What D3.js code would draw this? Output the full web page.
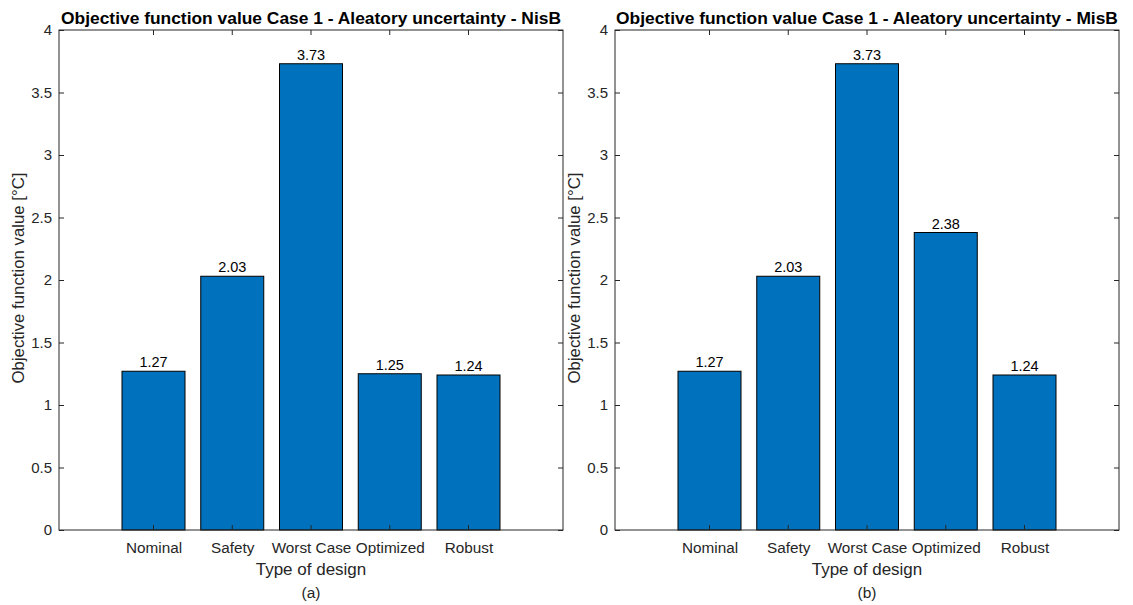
<!DOCTYPE html>
<html>
<head>
<meta charset="utf-8">
<script src="https://cdn.jsdelivr.net/npm/d3@7"></script>
<style>
  body { margin: 0; background: #fff; }
  svg { font-family: Arial, "Liberation Sans", sans-serif; }
</style>
</head>
<body>
<svg id="chart" width="1133" height="605"></svg>
<script>
// data
const designs = ['Nominal', 'Safety', 'Worst Case', 'Optimized', 'Robust'];
const valuesNisB = [1.27, 2.03, 3.73, 1.25, 1.24];
const valuesMisB = [1.27, 2.03, 3.73, 2.38, 1.24];
const yTicks = [0, 0.5, 1, 1.5, 2, 2.5, 3, 3.5, 4];
const panels = [
    { title: 'Objective function value Case 1 - Aleatory uncertainty - NisB', tag: '(a)', values: valuesNisB, left: 59 },
    { title: 'Objective function value Case 1 - Aleatory uncertainty - MisB', tag: '(b)', values: valuesMisB, left: 615 }
];

const svg = d3.select('#chart');
const axW = 504, axTop = 30, axBottom = 530;
const axisColor = '#262626';

panels.forEach(p => {
    const g = svg.append('g');
    const x = d3.scaleLinear().domain([-0.2, 6.2]).range([p.left, p.left + axW]);
    const y = d3.scaleLinear().domain([0, 4]).range([axBottom, axTop]);
    const step = x(1) - x(0);
    const bw = step * 0.8;

    // bars
    g.selectAll('rect.bar')
        .data(p.values)
        .enter().append('rect')
        .attr('class', 'bar')
        .attr('x', (d, i) => x(i + 1) - bw / 2)
        .attr('y', d => y(d))
        .attr('width', bw)
        .attr('height', d => y(0) - y(d))
        .attr('fill', '#0072BD')
        .attr('stroke', '#000')
        .attr('stroke-width', 1);

    // value labels
    g.selectAll('text.val')
        .data(p.values)
        .enter().append('text')
        .attr('x', (d, i) => x(i + 1))
        .attr('y', d => y(d) - 4)
        .attr('text-anchor', 'middle')
        .attr('font-size', 14.5)
        .attr('fill', '#000')
        .text(d => d.toFixed(2));

    // axes
    const tickLen = 5;
    const xTickVals = d3.range(1, designs.length + 1);
    const yAxis = d3.axisLeft(y).tickValues(yTicks).tickSize(tickLen).tickFormat(d3.format('~g'));
    const xAxis = d3.axisBottom(x).tickValues(xTickVals).tickSize(0).tickPadding(10).tickFormat(d => designs[d - 1]);

    const gy = g.append('g').attr('transform', `translate(${p.left},0)`).call(yAxis);
    gy.selectAll('text').attr('font-size', 15).attr('fill', axisColor).attr('dx', '1');
    gy.selectAll('.tick line').attr('x2', tickLen).attr('stroke', axisColor);

    const gyr = g.append('g').attr('transform', `translate(${p.left + axW},0)`)
        .call(d3.axisLeft(y).tickValues(yTicks).tickSize(tickLen).tickFormat(''));
    gyr.selectAll('.tick line').attr('stroke', axisColor);

    const gx = g.append('g').attr('transform', `translate(0,${axBottom})`).call(xAxis);
    gx.selectAll('text').attr('font-size', 15.3).attr('fill', axisColor).attr('dy', '0.85em');

    // x ticks inward at bottom and top
    xTickVals.forEach(v => {
        g.append('line').attr('x1', x(v)).attr('x2', x(v)).attr('y1', axBottom).attr('y2', axBottom - tickLen)
            .attr('stroke', axisColor);
        g.append('line').attr('x1', x(v)).attr('x2', x(v)).attr('y1', axTop).attr('y2', axTop + tickLen)
            .attr('stroke', axisColor);
    });

    [gy, gyr, gx].forEach(a => a.select('.domain').remove());

    // box
    g.append('rect')
        .attr('x', p.left).attr('y', axTop)
        .attr('width', axW).attr('height', axBottom - axTop)
        .attr('fill', 'none').attr('stroke', axisColor).attr('stroke-width', 1);

    const cx = p.left + axW / 2;
    g.append('text').attr('x', cx).attr('y', 24)
        .attr('text-anchor', 'middle').attr('font-size', 17.4).attr('font-weight', 'bold')
        .attr('fill', '#000').text(p.title);
    g.append('text').attr('x', cx).attr('y', 575)
        .attr('text-anchor', 'middle').attr('font-size', 17).attr('fill', axisColor)
        .text('Type of design');
    g.append('text').attr('x', cx).attr('y', 598)
        .attr('text-anchor', 'middle').attr('font-size', 15.5).attr('fill', axisColor)
        .text(p.tag);
    g.append('text')
        .attr('transform', `translate(${p.left - 35},${(axTop + axBottom) / 2 - 2}) rotate(-90)`)
        .attr('text-anchor', 'middle').attr('font-size', 16.8).attr('fill', axisColor)
        .text('Objective function value [°C]');
});
</script>
</body>
</html>
